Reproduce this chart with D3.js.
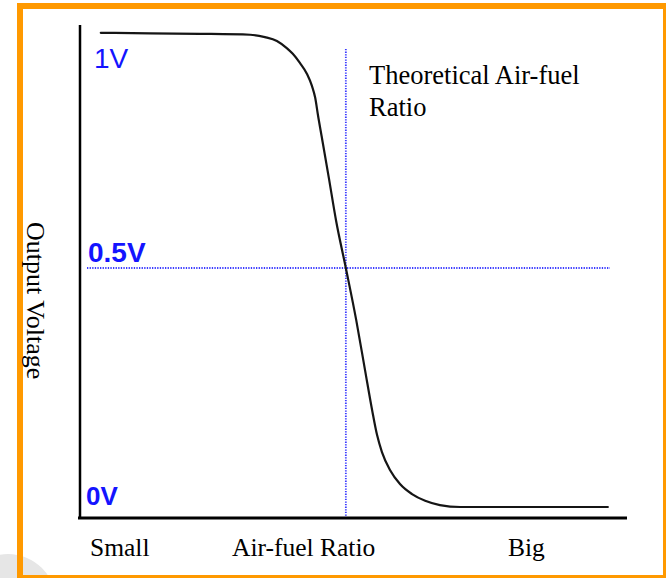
<!DOCTYPE html>
<html>
<head>
<meta charset="utf-8">
<script src="https://cdn.jsdelivr.net/npm/d3@7"></script>
<style>
  html, body { margin: 0; padding: 0; background: #ffffff; }
  svg { display: block; }
</style>
</head>
<body>
<svg id="chart" width="666" height="578"></svg>
<script>
// ---- data ----
// air-fuel ratio on an abstract 0..100 scale (small -> big), output voltage in V
const ratio = [3.8, 12.8, 21.9, 31.1, 33.8, 36.0, 37.8, 38.9, 40.2, 41.5, 42.4, 43.0, 43.5, 44.2,
               45.5, 46.8, 48.6, 50.5, 52.1, 53.4, 54.3, 55.2, 56.7, 58.5, 60.7, 63.1, 65.8,
               69.5, 76.8, 85.9, 96.5];
const voltage = [0.992, 0.991, 0.990, 0.988, 0.983, 0.975, 0.960, 0.948, 0.929, 0.906, 0.881, 0.856,
                 0.820, 0.774, 0.688, 0.600, 0.500, 0.391, 0.287, 0.203, 0.151, 0.115, 0.077, 0.048,
                 0.027, 0.013, 0.004, 0.0, 0.0, 0.0, 0.0];
const voltTicks = [1, 0.5, 0];
const voltLabels = ["1V", "0.5V", "0V"];
const xLabels = ["Small", "Air-fuel Ratio", "Big"];
const theoreticalRatio = 48.6;
const referenceVoltage = 0.5;
const yTitle = "Output Voltage";
const noteLines = ["Theoretical Air-fuel", "Ratio"];

// ---- drawing ----
const svg = d3.select("#chart");
const x = d3.scaleLinear().domain([0, 100]).range([80, 627]);
const y = d3.scaleLinear().domain([0, 1]).range([507, 29]);

// faint grey disc at lower-left corner
svg.append("circle").attr("cx", 8).attr("cy", 602).attr("r", 48).attr("fill", "#e6e6e6");

// orange frame
svg.append("rect").attr("x", 20).attr("y", 6).attr("width", 646).attr("height", 572)
  .attr("fill", "none").attr("stroke", "#ff9900").attr("stroke-width", 6);

// dotted reference lines
svg.append("line")
  .attr("x1", x(theoreticalRatio)).attr("x2", x(theoreticalRatio))
  .attr("y1", 49).attr("y2", 517)
  .attr("stroke", "#3a3aff").attr("stroke-width", 1.8).attr("stroke-dasharray", "1.3,1.3");
svg.append("line")
  .attr("x1", 87).attr("x2", 610)
  .attr("y1", y(referenceVoltage)).attr("y2", y(referenceVoltage))
  .attr("stroke", "#3a3aff").attr("stroke-width", 1.8).attr("stroke-dasharray", "1.3,1.3");

// axes (plain lines, no ticks)
const yAxis = d3.axisLeft(y).tickValues([]).tickSize(0);
svg.append("g").attr("transform", "translate(80,0)").call(yAxis)
  .call(g => g.select(".domain").attr("d", "M0,25V519").attr("stroke", "#000").attr("stroke-width", 2.5));
const xAxis = d3.axisBottom(x).tickValues([]).tickSize(0);
svg.append("g").attr("transform", "translate(0,518)").call(xAxis)
  .call(g => g.select(".domain").attr("d", `M78,0H${x(100)}`).attr("stroke", "#000").attr("stroke-width", 3));

// curve
const pts = ratio.map((r, i) => [r, voltage[i]]);
svg.append("path").datum(pts)
  .attr("fill", "none").attr("stroke", "#151515").attr("stroke-width", 2.2)
  .attr("stroke-linejoin", "round").attr("stroke-linecap", "round")
  .attr("d", d3.line().x(d => x(d[0])).y(d => y(d[1])).curve(d3.curveMonotoneX));

// voltage labels
const labelOffsets = [39, -6, -2];
const labelX = [94, 88, 86];
const labelWeight = ["normal", "bold", "bold"];
const labelSize = [28, 28, 26];
svg.selectAll("text.vlab").data(voltTicks).enter().append("text")
  .attr("class", "vlab")
  .attr("x", (d, i) => labelX[i])
  .attr("y", (d, i) => y(d) + labelOffsets[i])
  .attr("fill", "#1414ff")
  .attr("font-family", "Liberation Sans, Arial, sans-serif")
  .attr("font-size", (d, i) => labelSize[i])
  .attr("font-weight", (d, i) => labelWeight[i])
  .text((d, i) => voltLabels[i]);

// x category labels
const xLabelPos = [90, 232, 508];
svg.selectAll("text.xlab").data(xLabels).enter().append("text")
  .attr("class", "xlab")
  .attr("x", (d, i) => xLabelPos[i]).attr("y", 556)
  .attr("fill", "#000")
  .attr("font-family", "Liberation Serif, Times New Roman, serif")
  .attr("font-size", 25.5)
  .text(d => d);

// y title (rotated clockwise)
svg.append("text")
  .attr("transform", "translate(27,222) rotate(90)")
  .attr("fill", "#000")
  .attr("font-family", "Liberation Serif, Times New Roman, serif")
  .attr("font-size", 26)
  .text(yTitle);

// note
svg.selectAll("text.note").data(noteLines).enter().append("text")
  .attr("class", "note")
  .attr("x", 369).attr("y", (d, i) => 84 + i * 32)
  .attr("fill", "#000")
  .attr("font-family", "Liberation Serif, Times New Roman, serif")
  .attr("font-size", 26.5)
  .text(d => d);
</script>
</body>
</html>
